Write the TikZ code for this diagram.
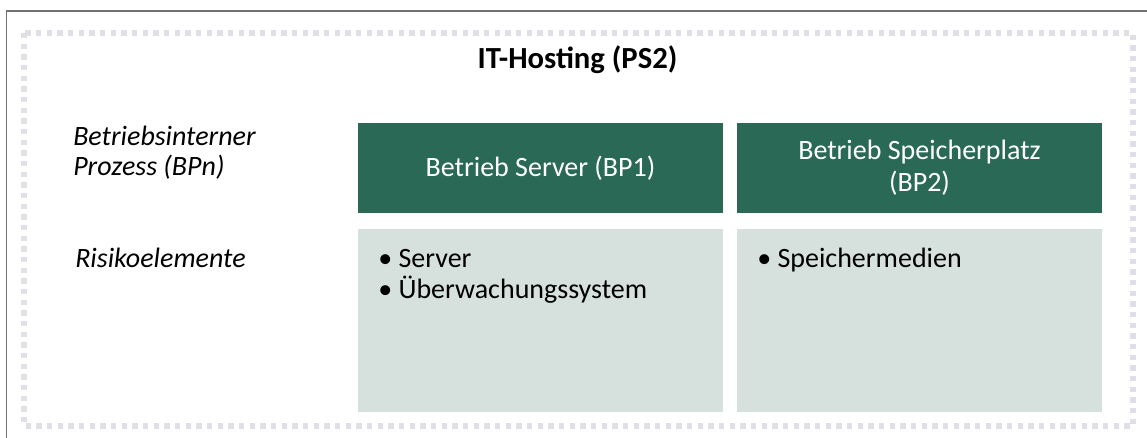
\documentclass[tikz,border=0pt]{standalone}
\usepackage{fontspec}
\setmainfont{Carlito}
\newdimen\px
\px=0.75pt
\definecolor{bsigreen}{HTML}{2A6955}
\definecolor{bsilight}{HTML}{D6E1DD}
\definecolor{framegrey}{HTML}{707070}
\definecolor{dotgrey}{HTML}{DFDFE5}
\tikzset{
  headbox/.style={fill=bsigreen, draw=none, text=white, align=center,
    minimum width=365\px, minimum height=90\px, inner sep=0pt,
    font=\fontsize{21pt}{24pt}\selectfont},
  riskbox/.style={fill=bsilight, draw=none, minimum width=365\px,
    minimum height=183\px, inner sep=0pt},
  rowlabel/.style={anchor=base west, align=left, inner sep=0pt,
    font=\fontsize{21pt}{22.5pt}\selectfont\itshape},
  itemlist/.style={anchor=base west, align=left, inner sep=0pt,
    font=\fontsize{21pt}{23.25pt}\selectfont},
  dotframe/.style={draw=dotgrey, line width=3.8pt, dash pattern=on 4pt off 4pt}
}
\begin{document}
\begin{tikzpicture}[x=0.75pt,y=-0.75pt]
  \useasboundingbox (0,0) rectangle (1147,437);
  \clip (0,0) rectangle (1147,437);
  % outer frame, running off the right and bottom edges
  \draw[framegrey, line width=1.4pt] (6.5,460) -- (6.5,11) -- (1170,11);
  % dotted inner frame
  \draw[dotframe] (24,33) rectangle (1133,426);
  % title
  \node[anchor=base, inner sep=0pt, font=\fontsize{23pt}{26pt}\selectfont\bfseries]
    (title) at (577.5,68) {IT-Hosting (PS2)};
  % row labels (base anchor = baseline of the last line)
  \node[rowlabel] (lblproc) at (73,175) {Betriebsinterner\\Prozess (BPn)};
  \node[rowlabel] (lblrisk) at (75,267) {Risikoelemente};
  % process headers
  \node[headbox] (bp1) at (540.5,168) {Betrieb Server (BP1)};
  \node[headbox] (bp2) at (919.5,168) {Betrieb Speicherplatz\\(BP2)};
  % risk element boxes
  \node[riskbox] (risk1) at (540.5,320.5) {};
  \node[riskbox] (risk2) at (919.5,320.5) {};
  \node[itemlist] (items1) at (378,298) {• Server\\• Überwachungssystem};
  \node[itemlist] (items2) at (757,267) {• Speichermedien};
\end{tikzpicture}
\end{document}
